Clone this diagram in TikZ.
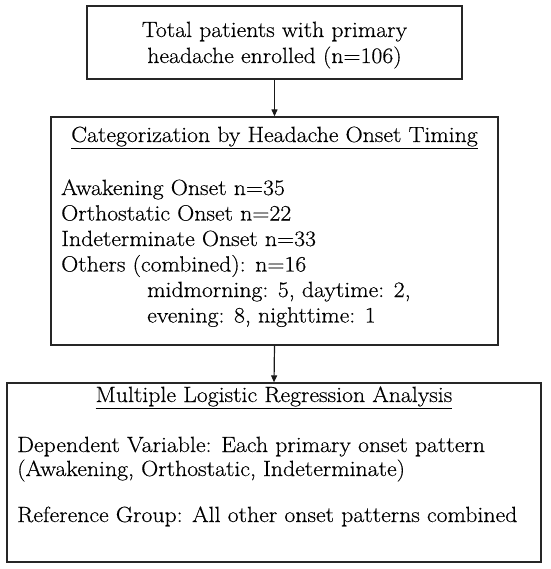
\documentclass[tikz,border=0pt]{standalone}
\usepackage{fontspec}
\setmainfont{Latin Modern Roman}[FakeStretch=1.08,FakeBold=0.4]
\usetikzlibrary{arrows.meta}
\begin{document}
\begin{tikzpicture}[x=1pt,y=-1pt,
  boxframe/.style={draw=black!85,line width=1.3pt,minimum width=#1,inner sep=0pt},
  txt/.style={anchor=base west,inner sep=0pt,font=\fontsize{22}{26}\selectfont},
  ctxt/.style={anchor=base,inner sep=0pt,font=\fontsize{22}{26}\selectfont,align=center},
  arr/.style={-{Triangle[length=7pt,width=6pt]},line width=1.2pt,black!90}]
\useasboundingbox (0,0) rectangle (550,569);
% boxes
\node[boxframe=375pt,minimum height=73pt] (b1) at (274.5,42.5) {};
\node[boxframe=447pt,minimum height=228pt] (b2) at (274.5,231) {};
\node[boxframe=534pt,minimum height=179pt] (b3) at (274,472.5) {};
% box 1
\node[ctxt] (t1a) at (274.5,37) {Total patients with primary};
\node[ctxt] (t1b) at (274.5,63) {headache enrolled (n=106)};
% box 2
\node[ctxt] (h2) at (274.5,142) {\underline{Categorization by Headache Onset Timing}};
\node[txt] (l1) at (61,195) {Awakening Onset n=35};
\node[txt] (l2) at (61,220.5) {Orthostatic Onset n=22};
\node[txt] (l3) at (61,246) {Indeterminate Onset n=33};
\node[txt] (l4) at (61,271.5) {Others (combined): n=16};
\node[txt] (l5) at (147,297) {midmorning: 5, daytime: 2,};
\node[txt] (l6) at (147,322.5) {evening: 8, nighttime: 1};
% box 3
\node[ctxt] (h3) at (274,402) {\underline{Multiple Logistic Regression Analysis}};
\node[txt] (m1) at (17,452) {Dependent Variable: Each primary onset pattern};
\node[txt] (m2) at (17,476) {(Awakening, Orthostatic, Indeterminate)};
\node[txt] (m3) at (17,522) {Reference Group: All other onset patterns combined};
% arrows
\draw[arr] (b1.south) -- (b2.north);
\draw[arr] (b2.south) -- (b3.north);
\end{tikzpicture}
\end{document}
